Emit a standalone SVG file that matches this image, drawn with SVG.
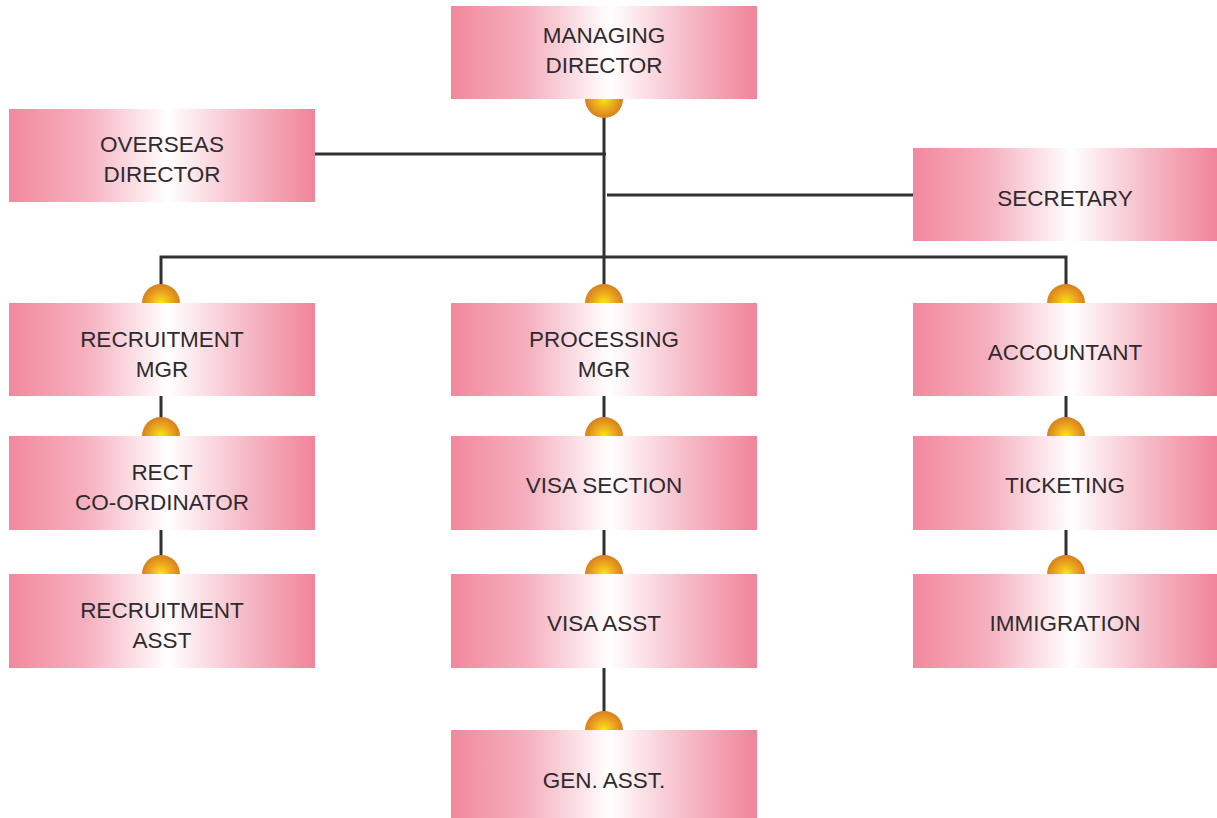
<svg xmlns="http://www.w3.org/2000/svg" width="1217" height="818" viewBox="0 0 1217 818">
<defs>
<linearGradient id="pk" x1="0" y1="0" x2="1" y2="0">
<stop offset="0" stop-color="#f2889d"/>
<stop offset="0.25" stop-color="#f6b0bf"/>
<stop offset="0.52" stop-color="#ffffff"/>
<stop offset="0.78" stop-color="#f6b8c5"/>
<stop offset="1" stop-color="#f0849a"/>
</linearGradient>
<radialGradient id="ball" cx="0.5" cy="0.5" r="0.5">
<stop offset="0" stop-color="#f7ea10"/>
<stop offset="0.45" stop-color="#f0b21e"/>
<stop offset="1" stop-color="#d8801c"/>
</radialGradient>
</defs>
<style>
.box{fill:url(#pk);}
.dot{fill:url(#ball);}
.ln{stroke:#333033;stroke-width:3;fill:none;}
text{font-family:"Liberation Sans",Arial,sans-serif;font-size:22.5px;fill:#2f2a2e;text-anchor:middle;}
</style>
<rect width="1217" height="818" fill="#ffffff"/>
<g id="connectors">
<path class="ln" d="M604 99V286"/>
<path class="ln" d="M315 154H606"/>
<path class="ln" d="M607 195H913"/>
<path class="ln" d="M161 286V257H1066V286"/>
<path class="ln" d="M161 396V436M161 530V574"/>
<path class="ln" d="M604 396V436M604 530V574M604 668V730"/>
<path class="ln" d="M1066 396V436M1066 530V574"/>
</g>
<g id="managing-director">
<circle class="dot" cx="604" cy="99" r="19"/>
<rect class="box" x="451" y="6" width="306" height="93"/>
<text x="604" y="43">MANAGING</text><text x="604" y="73">DIRECTOR</text>
</g>
<g id="overseas-director">
<rect class="box" x="9" y="109" width="306" height="93"/>
<text x="162" y="152">OVERSEAS</text><text x="162" y="182">DIRECTOR</text>
</g>
<g id="secretary">
<rect class="box" x="913" y="148" width="304" height="93"/>
<text x="1065" y="206">SECRETARY</text>
</g>
<g id="recruitment-mgr">
<circle class="dot" cx="161" cy="303" r="19"/>
<rect class="box" x="9" y="303" width="306" height="93"/>
<text x="162" y="347">RECRUITMENT</text><text x="162" y="377">MGR</text>
</g>
<g id="processing-mgr">
<circle class="dot" cx="604" cy="303" r="19"/>
<rect class="box" x="451" y="303" width="306" height="93"/>
<text x="604" y="347">PROCESSING</text><text x="604" y="377">MGR</text>
</g>
<g id="accountant">
<circle class="dot" cx="1066" cy="303" r="19"/>
<rect class="box" x="913" y="303" width="304" height="93"/>
<text x="1065" y="360">ACCOUNTANT</text>
</g>
<g id="rect-coordinator">
<circle class="dot" cx="161" cy="436" r="19"/>
<rect class="box" x="9" y="436" width="306" height="94"/>
<text x="162" y="480">RECT</text><text x="162" y="510">CO-ORDINATOR</text>
</g>
<g id="visa-section">
<circle class="dot" cx="604" cy="436" r="19"/>
<rect class="box" x="451" y="436" width="306" height="94"/>
<text x="604" y="493">VISA SECTION</text>
</g>
<g id="ticketing">
<circle class="dot" cx="1066" cy="436" r="19"/>
<rect class="box" x="913" y="436" width="304" height="94"/>
<text x="1065" y="493">TICKETING</text>
</g>
<g id="recruitment-asst">
<circle class="dot" cx="161" cy="574" r="19"/>
<rect class="box" x="9" y="574" width="306" height="94"/>
<text x="162" y="618">RECRUITMENT</text><text x="162" y="648">ASST</text>
</g>
<g id="visa-asst">
<circle class="dot" cx="604" cy="574" r="19"/>
<rect class="box" x="451" y="574" width="306" height="94"/>
<text x="604" y="631">VISA ASST</text>
</g>
<g id="immigration">
<circle class="dot" cx="1066" cy="574" r="19"/>
<rect class="box" x="913" y="574" width="304" height="94"/>
<text x="1065" y="631">IMMIGRATION</text>
</g>
<g id="gen-asst">
<circle class="dot" cx="604" cy="730" r="19"/>
<rect class="box" x="451" y="730" width="306" height="88"/>
<text x="604" y="788">GEN. ASST.</text>
</g>
</svg>
